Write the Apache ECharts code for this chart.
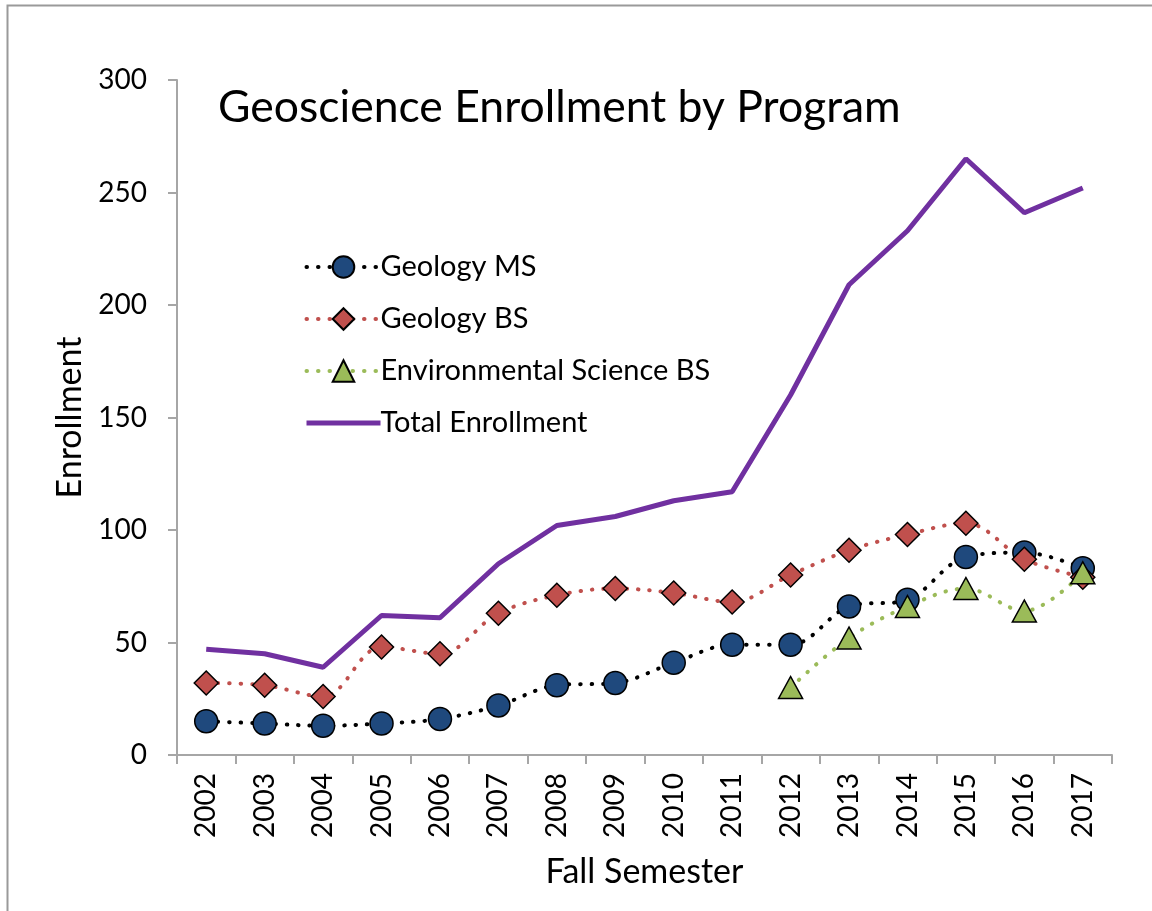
<!DOCTYPE html>
<html>
<head>
<meta charset="utf-8">
<script src="https://cdn.jsdelivr.net/npm/echarts@6/dist/echarts.min.js"></script>
<style>
  html, body { margin: 0; padding: 0; background: #fff; }
  #chart { width: 1152px; height: 911px; }
</style>
</head>
<body>
<div id="chart"></div>
<script>
// Fall semester enrollment
const years = ['2002', '2003', '2004', '2005', '2006', '2007', '2008', '2009',
               '2010', '2011', '2012', '2013', '2014', '2015', '2016', '2017'];
const geologyMS = [15, 14, 13, 14, 16, 22, 31, 32, 41, 49, 49, 66, 69, 88, 90, 83];
const geologyBS = [32, 31, 26, 48, 45, 63, 71, 74, 72, 68, 80, 91, 98, 103, 87, 79];
const envSciBS = [null, null, null, null, null, null, null, null, null, null, 30, 52, 66, 74, 64, 81];
const totalEnrollment = [47, 45, 39, 62, 61, 85, 102, 106, 113, 117, 160, 209, 233, 265, 241, 252];
const yTicks = [0, 50, 100, 150, 200, 250, 300];

const font = 'Lato';
const axisGray = '#a6a6a6';

function dotted(color) {
    return { color: color, width: 4, type: [0.5, 11], cap: 'round' };
}

const chart = echarts.init(document.getElementById('chart'));
chart.setOption({
    backgroundColor: '#fff',
    animation: false,
    textStyle: { fontFamily: font, color: '#000' },
    graphic: [{
        type: 'rect',
        shape: { x: 7.5, y: 5.5, width: 1200, height: 1000 },
        style: { fill: 'none', stroke: '#9a9a9a', lineWidth: 2 },
        silent: true
    }],
    title: {
        text: 'Geoscience Enrollment by Program',
        left: 213,
        top: 80,
        textStyle: { fontFamily: font, fontSize: 44.5, fontWeight: 'normal', color: '#000' }
    },
    legend: {
        orient: 'vertical',
        left: 299,
        top: 247,
        itemWidth: 74,
        itemHeight: 27,
        itemGap: 22,
        textStyle: { fontFamily: font, fontSize: 29, lineHeight: 30, color: '#000', padding: [0, 0, 0, -5] },
        data: [
            { name: 'Geology MS', lineStyle: { width: 4 } },
            { name: 'Geology BS', lineStyle: { width: 4 } },
            { name: 'Environmental Science BS', lineStyle: { width: 4 } },
            { name: 'Total Enrollment', lineStyle: { width: 5 }, itemStyle: { opacity: 0 } }
        ]
    },
    grid: { left: 177, right: 40, top: 80, bottom: 156 },
    xAxis: {
        type: 'category',
        data: years,
        boundaryGap: true,
        name: 'Fall Semester',
        nameLocation: 'middle',
        nameGap: 100,
        nameTextStyle: { fontFamily: font, fontSize: 34, color: '#000' },
        axisLine: { lineStyle: { color: axisGray, width: 2 } },
        axisTick: { show: true, length: 9, lineStyle: { color: axisGray, width: 2 } },
        axisLabel: { rotate: 90, fontFamily: font, fontSize: 28, color: '#000', margin: 18 },
        splitLine: { show: false }
    },
    yAxis: {
        type: 'value',
        min: yTicks[0],
        max: yTicks[yTicks.length - 1],
        interval: 50,
        name: 'Enrollment',
        nameLocation: 'middle',
        nameGap: 90,
        nameRotate: 90,
        nameTextStyle: { fontFamily: font, fontSize: 34, color: '#000' },
        axisLine: { show: true, lineStyle: { color: axisGray, width: 2 } },
        axisTick: { show: true, length: 9, lineStyle: { color: axisGray, width: 2 } },
        axisLabel: { fontFamily: font, fontSize: 28, color: '#000', margin: 30 },
        splitLine: { show: false }
    },
    series: [
        {
            name: 'Geology MS',
            type: 'line',
            data: geologyMS,
            smooth: 0.35,
            symbol: 'circle',
            symbolSize: 23,
            lineStyle: dotted('#000'),
            itemStyle: { color: '#1f497d', borderColor: '#000', borderWidth: 1.5 }
        },
        {
            name: 'Geology BS',
            type: 'line',
            data: geologyBS,
            smooth: 0.35,
            symbol: 'diamond',
            symbolSize: [24, 24],
            lineStyle: dotted('#c0504d'),
            itemStyle: { color: '#c0504d', borderColor: '#000', borderWidth: 1.5 }
        },
        {
            name: 'Environmental Science BS',
            type: 'line',
            data: envSciBS,
            smooth: 0.35,
            symbol: 'triangle',
            symbolSize: [24, 22],
            lineStyle: dotted('#9bbb59'),
            itemStyle: { color: '#9bbb59', borderColor: '#000', borderWidth: 1.5 }
        },
        {
            name: 'Total Enrollment',
            type: 'line',
            data: totalEnrollment,
            symbol: 'none',
            lineStyle: { color: '#7030a0', width: 5 },
            itemStyle: { color: '#7030a0' }
        }
    ]
});
</script>
</body>
</html>
